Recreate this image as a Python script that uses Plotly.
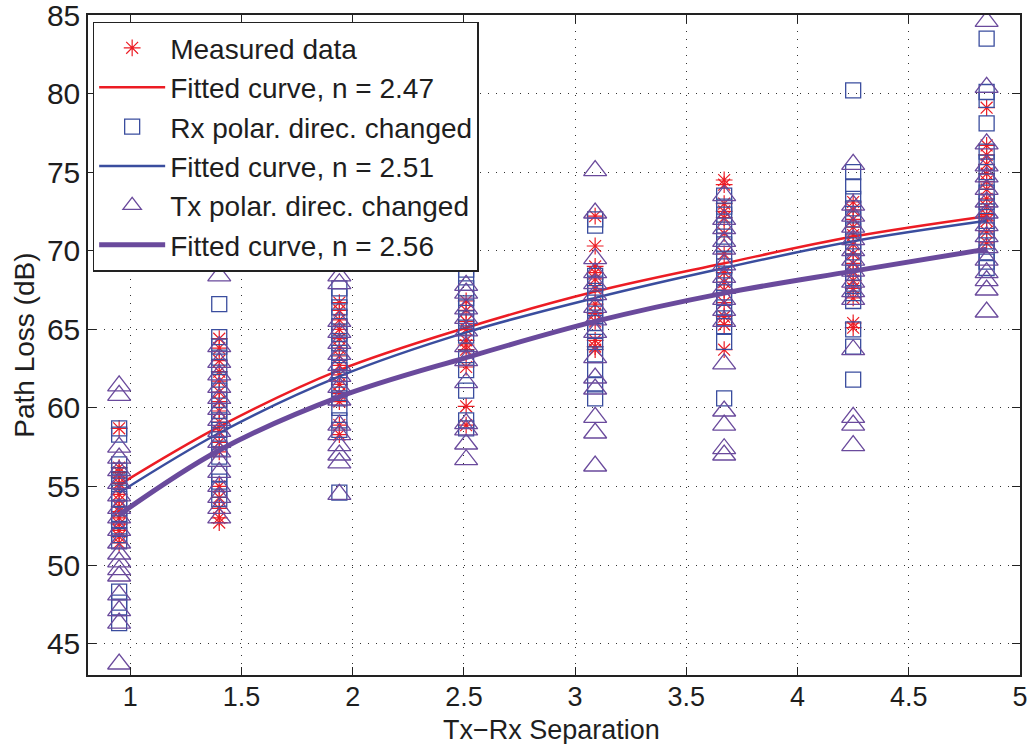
import plotly.graph_objects as go

# ---- data ----
distances = [0.95, 1.4, 1.94, 2.51, 3.09, 3.67, 4.25, 4.85]

measured = [
    [58.7, 56.2, 55.9, 55.6, 55.2, 54.9, 54.5, 54.1, 53.7, 53.4, 53.0, 52.6, 52.2, 51.8, 51.4],
    [64.4, 63.8, 63.0, 62.3, 61.7, 61.0, 60.4, 59.8, 59.1, 58.5, 57.8, 57.2, 55.0, 54.3, 53.6, 53.0, 52.7],
    [66.7, 66.2, 65.6, 65.0, 64.4, 63.8, 63.3, 62.7, 62.1, 61.5, 60.9, 60.4, 58.9, 58.3],
    [66.8, 66.2, 65.5, 65.0, 64.3, 64.0, 63.7, 62.6, 60.1, 58.9],
    [72.2, 70.3, 69.0, 68.6, 68.2, 67.6, 66.6, 66.0, 65.5, 64.3, 63.9, 63.7],
    [74.5, 74.2, 73.0, 72.5, 72.1, 71.1, 69.8, 68.6, 68.0, 67.5, 66.7, 65.8, 65.3, 63.7],
    [73.1, 72.6, 72.0, 71.5, 71.0, 70.4, 69.8, 69.2, 68.7, 68.1, 67.6, 67.0, 65.4, 65.1],
    [79.1, 76.7, 76.1, 75.5, 74.9, 74.4, 73.9, 73.3, 72.8, 72.3, 71.9, 71.2, 70.5],
]

rx_changed = [
    [58.7, 58.3, 56.4, 56.0, 55.7, 55.3, 54.6, 54.2, 53.6, 53.2, 52.8, 52.3, 51.9, 51.5, 48.3, 47.6, 47.3, 46.3],
    [66.6, 64.5, 63.9, 63.2, 62.6, 61.8, 61.1, 60.5, 59.8, 59.2, 58.6, 58.0, 57.4, 56.9, 55.8, 55.3, 54.8, 54.2],
    [67.6, 67.1, 66.4, 65.8, 65.2, 64.7, 64.1, 63.5, 62.9, 62.4, 61.8, 61.2, 60.6, 60.0, 59.2, 58.6, 54.6],
    [68.8, 68.3, 67.6, 67.0, 66.4, 65.7, 65.1, 64.6, 63.2, 62.4, 61.1, 59.2, 58.7],
    [72.0, 71.6, 68.4, 67.9, 67.3, 66.7, 66.0, 65.4, 64.9, 64.2, 63.4, 62.4, 61.5, 60.6],
    [73.5, 72.8, 72.3, 71.6, 70.9, 70.4, 69.5, 69.0, 68.3, 67.8, 67.0, 66.4, 65.7, 65.2, 64.2, 60.6],
    [80.2, 75.0, 74.1, 73.3, 72.7, 72.0, 71.3, 70.6, 69.9, 69.3, 68.6, 67.9, 67.3, 66.8, 65.0, 63.9, 61.8],
    [83.5, 80.1, 79.6, 78.1, 76.3, 75.6, 75.0, 74.4, 73.7, 73.1, 72.5, 71.9, 71.3, 70.6, 69.9, 69.3, 68.9],
]

tx_changed = [
    [61.4, 60.8, 57.5, 56.8, 56.0, 55.2, 54.4, 53.6, 53.0, 52.2, 51.4, 50.7, 50.2, 49.7, 49.3, 48.1, 47.1, 46.3, 43.7],
    [68.4, 63.9, 62.9, 62.1, 61.3, 60.6, 59.9, 59.2, 58.5, 57.8, 57.2, 56.6, 55.9, 55.0, 54.3, 53.6, 53.0],
    [68.4, 67.9, 65.5, 64.8, 64.1, 63.4, 62.7, 62.0, 61.3, 60.5, 58.9, 58.3, 57.6, 57.0, 56.5, 54.5],
    [67.8, 67.3, 66.3, 65.7, 64.9, 63.9, 63.0, 61.6, 59.0, 58.6, 57.7, 56.7],
    [75.1, 72.4, 69.5, 68.6, 67.9, 67.2, 66.4, 65.6, 64.8, 63.2, 61.9, 61.2, 59.4, 58.4, 56.3],
    [73.5, 72.0, 71.4, 70.6, 70.1, 69.1, 68.3, 67.6, 66.9, 66.2, 65.5, 62.8, 59.8, 58.9, 57.4, 57.0],
    [75.5, 72.9, 72.2, 71.5, 70.7, 70.0, 69.4, 68.7, 68.0, 67.4, 66.9, 63.7, 59.4, 58.9, 57.6],
    [84.6, 80.4, 76.8, 75.4, 74.7, 73.9, 73.1, 72.4, 71.6, 70.9, 70.2, 69.4, 68.6, 68.1, 67.5, 66.1],
]

# fitted curves read at the measurement distances
fit_x = [0.95, 1.4, 1.94, 2.51, 3.09, 3.67, 4.25, 4.85]
fit_measured = [55.1, 58.8, 62.4, 65.1, 67.4, 69.2, 70.9, 72.2]
fit_rx = [54.6, 58.4, 62.0, 64.8, 67.0, 68.9, 70.6, 71.9]
fit_tx = [53.2, 57.3, 60.7, 63.2, 65.5, 67.3, 68.7, 70.1]

x_ticks = [1, 1.5, 2, 2.5, 3, 3.5, 4, 4.5, 5]
y_ticks = [45, 50, 55, 60, 65, 70, 75, 80, 85]


def flatten(groups):
    xs, ys = [], []
    for d, vals in zip(distances, groups):
        xs.extend([d] * len(vals))
        ys.extend(vals)
    return xs, ys


RED = "#ec1c24"
BLUE = "#3a4d9e"
PURPLE = "#6a4a9c"
FONT = "Liberation Sans, Arial, sans-serif"
TXT = "#1e1e1e"

fig = go.Figure()

mx, my = flatten(measured)
fig.add_trace(go.Scatter(x=mx, y=my, mode="markers", name="Measured data",
                         marker=dict(symbol="asterisk-open", size=14, color=RED,
                                     line=dict(color=RED, width=1.2))))
fig.add_trace(go.Scatter(x=fit_x, y=fit_measured, mode="lines", name="Fitted curve, n = 2.47",
                         line=dict(color=RED, width=2.5, shape="spline")))
rx, ry = flatten(rx_changed)
fig.add_trace(go.Scatter(x=rx, y=ry, mode="markers", name="Rx polar. direc. changed",
                         marker=dict(symbol="square-open", size=15, color=BLUE,
                                     line=dict(color=BLUE, width=1.3))))
fig.add_trace(go.Scatter(x=fit_x, y=fit_rx, mode="lines", name="Fitted curve, n = 2.51",
                         line=dict(color=BLUE, width=2.5, shape="spline")))
tx, ty = flatten(tx_changed)
fig.add_trace(go.Scatter(x=tx, y=ty, mode="markers", name="Tx polar. direc. changed",
                         marker=dict(symbol="triangle-up-open", size=20, color=PURPLE,
                                     line=dict(color=PURPLE, width=1.3))))
fig.add_trace(go.Scatter(x=fit_x, y=fit_tx, mode="lines", name="Fitted curve, n = 2.56",
                         line=dict(color=PURPLE, width=5, shape="spline")))

axis_common = dict(
    showline=True, linecolor="#222", linewidth=1.5, mirror="ticks",
    ticks="inside", ticklen=8, tickcolor="#222", automargin=False,
    ticklabeloverflow="allow",
    showgrid=True, gridcolor="rgba(0,0,0,0.8)", griddash="1px,7px", gridwidth=1,
    zeroline=False,
)

fig.update_layout(
    width=1031, height=744,
    margin=dict(l=88, r=11, t=15, b=69),
    plot_bgcolor="white", paper_bgcolor="white",
    font=dict(family=FONT, color=TXT),
    showlegend=True,
    legend=dict(x=0.005, y=0.99, xanchor="left", yanchor="top",
                bgcolor="white", bordercolor="#222", borderwidth=1.5,
                font=dict(family=FONT, size=28, color=TXT),
                itemwidth=66, tracegroupgap=0),
    xaxis=dict(range=[0.81, 5], tickvals=x_ticks, ticktext=[str(v) for v in x_ticks],
               tickfont=dict(family=FONT, size=27, color=TXT), ticklabelstandoff=-3,
               **axis_common),
    yaxis=dict(range=[43, 85], tickvals=y_ticks,
               tickfont=dict(family=FONT, size=30, color=TXT),
               **axis_common),
    annotations=[
        dict(text="Tx\u2212Rx Separation", xref="paper", yref="paper",
             x=0.497, y=-0.084, xanchor="center", yanchor="middle", showarrow=False,
             font=dict(family=FONT, size=27, color=TXT)),
        dict(text="Path Loss (dB)", xref="paper", yref="paper",
             x=-0.069, y=0.5, xanchor="center", yanchor="middle", showarrow=False,
             textangle=-90, font=dict(family=FONT, size=28, color=TXT)),
    ],
)

fig.write_html("out.html", config={"displayModeBar": False},
               post_script="document.body.style.margin='0';")
